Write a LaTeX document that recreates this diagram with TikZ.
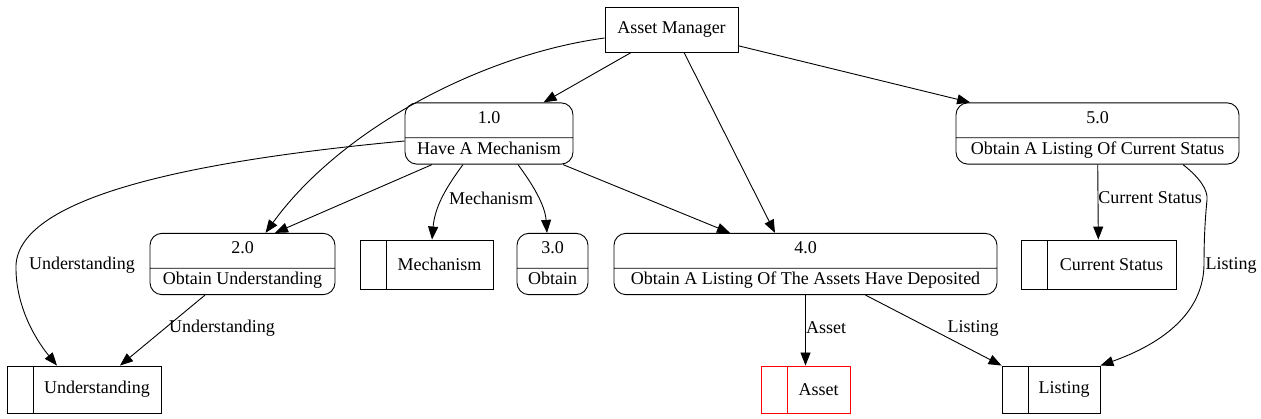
\documentclass[tikz,border=0pt]{standalone}
\usepackage{fontspec}
\setmainfont{Liberation Serif}
\usetikzlibrary{arrows.meta,shapes.multipart}
\newcommand{\storetext}[1]{\hspace*{26pt}#1}
\newcommand{\toppart}[1]{\rule[-14pt]{0pt}{34pt}#1}
\newcommand{\botpart}[1]{\rule[-9.5pt]{0pt}{25.5pt}#1}

\begin{document}
\begin{tikzpicture}[x=1pt, y=-1pt, line width=0.9pt, >={Triangle[length=13pt, width=10pt]},
	every node/.style={font=\fontsize{18pt}{22pt}\selectfont},
	proc/.style={draw, rectangle split, rectangle split parts=2, rounded corners=12pt, inner ysep=0pt},
	storeline/.style={},
	store/.style={draw, inner sep=0pt, path picture={\draw[storeline] ([xshift=26pt]path picture bounding box.north west) -- ([xshift=26pt]path picture bounding box.south west);}}]
	\useasboundingbox (0,0) rectangle (1261,419);

	\node[draw, minimum width=133pt, minimum height=45pt] (am) at (671.5,29.5) {Asset Manager};

	\node[proc, minimum width=168pt] (p1) at (489,133.5) {\toppart{1.0}\nodepart{two}\botpart{Have A Mechanism}};
	\node[proc, minimum width=283pt] (p5) at (1097.5,133.5) {\toppart{5.0}\nodepart{two}\botpart{Obtain A Listing Of Current Status}};
	\node[proc, minimum width=185pt] (p2) at (242.5,264) {\toppart{2.0}\nodepart{two}\botpart{Obtain Understanding}};
	\node[proc, minimum width=71pt] (p3) at (552.5,264) {\toppart{3.0}\nodepart{two}\botpart{Obtain}};
	\node[proc, minimum width=383pt] (p4) at (805.5,264) {\toppart{4.0}\nodepart{two}\botpart{Obtain A Listing Of The Assets Have Deposited}};

	\node[store, minimum width=133pt, minimum height=49pt] (sMech) at (426.5,264.5) {\storetext{Mechanism}};
	\node[store, minimum width=155pt, minimum height=49pt] (sStatus) at (1098.5,264.5) {\storetext{Current Status}};
	\node[store, minimum width=154pt, minimum height=47pt] (sUnder) at (84,389.5) {\storetext{Understanding}};
	\node[store, draw=red, storeline/.style={red}, minimum width=89pt, minimum height=47pt] (sAsset) at (805.5,389.5) {\storetext{Asset}};
	\node[store, minimum width=98pt, minimum height=47pt] (sList) at (1051,389.5) {\storetext{Listing}};

	\draw[->] (am) -- (p1);
	\draw[->] ([yshift=-8.5pt]am.west) .. controls (480,55) and (340,130) .. ([xshift=23pt]p2.north);
	\draw[->] ([xshift=12.5pt]am.south) -- ([xshift=-30.5pt]p4.north);
	\draw[->] (am) -- (p5);

	\draw[->] ([yshift=-7.5pt]p1.west) .. controls (200,160) and (20,195) .. (16,265) .. controls (15,310) and (40,345) .. ([xshift=-27pt]sUnder.north);
	\draw[->] ([xshift=-57pt]p1.south) -- ([xshift=32.5pt]p2.north);
	\draw[->] ([xshift=-26pt]p1.south) .. controls (448,185) and (435,205) .. ([xshift=5.5pt]sMech.north);
	\draw[->] ([xshift=29pt]p1.south) .. controls (533,185) and (545,205) .. ([xshift=-5.5pt]p3.north);
	\draw[->] ([xshift=74pt]p1.south) -- ([xshift=-75.5pt]p4.north);

	\draw[->] ([xshift=-37.5pt]p2.south) -- ([xshift=36pt]sUnder.north);
	\draw[->] (p4) -- (sAsset);
	\draw[->] ([xshift=60pt]p4.south) -- (sList.north west);
	\draw[->] (p5) -- (sStatus);
	\draw[->] ([xshift=85.5pt]p5.south) .. controls (1200,178) and (1208,190) .. (1207,200) .. controls (1205,220) and (1204,240) .. (1204,265) .. controls (1203,320) and (1150,348) .. (sList.north east);

	% flow labels
	\node (lUnder1) at (82,265) {Understanding};
	\node (lUnder2) at (222,328) {Understanding};
	\node (lMech) at (491,198) {Mechanism};
	\node (lAsset) at (826,328) {Asset};
	\node (lList1) at (973,328) {Listing};
	\node (lStatus) at (1150,198) {Current Status};
	\node (lList2) at (1231,265) {Listing};
\end{tikzpicture}
\end{document}
